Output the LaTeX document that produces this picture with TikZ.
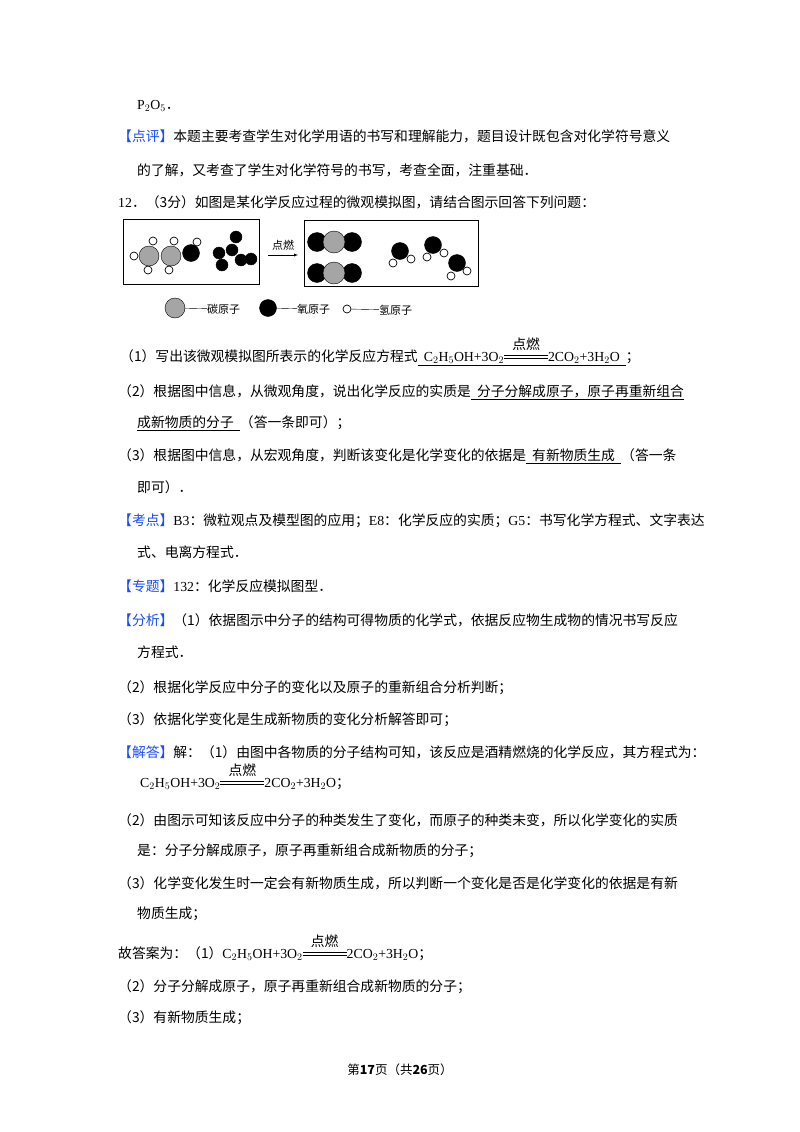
\documentclass[tikz,border=0pt]{standalone}
\usepackage{fontspec}
\setmainfont{Liberation Serif}
\newfontfamily\cjk{Noto Sans CJK SC}
\definecolor{hb}{RGB}{26,76,255}
\definecolor{cg}{RGB}{165,165,165}
\newcommand\ign{\makebox[44pt]{\rlap{\raisebox{0.22em}{\rule{44pt}{0.5pt}}}\rlap{\raisebox{0.42em}{\rule{44pt}{0.5pt}}}\raisebox{0.85em}{\makebox[44pt]{\cjk 点燃}}}}
\newcommand\hd[1]{{\color{hb}【#1】}}
\newcommand\eqa{{\rmfamily C$_2$H$_5$OH+3O$_2$}}
\newcommand\eqb{{\rmfamily 2CO$_2$+3H$_2$O}}
\tikzset{
 txt/.style={anchor=west,inner sep=0pt,font=\fontsize{13.8}{14}\cjk},
 box/.style={draw,line width=0.9pt},
 catom/.style={circle,draw,fill=cg,minimum size=20pt,inner sep=0pt},
 oatom/.style={circle,draw,fill=black,minimum size=17pt,inner sep=0pt},
 osm/.style={circle,draw,fill=black,minimum size=12pt,inner sep=0pt},
 hatom/.style={circle,draw,fill=white,minimum size=8pt,inner sep=0pt,line width=0.7pt},
 lgd/.style={anchor=west,inner sep=0pt,font=\fontsize{11}{11}\cjk},
}
\begin{document}
\begin{tikzpicture}[x=1pt,y=-1pt]
\useasboundingbox (0,0) rectangle (800,1132);
\fill[white] (0,0) rectangle (800,1132);
\node[txt] (t1) at (137,106) {{\rmfamily P$_2$O$_5$}．};
\node[txt] (t2) at (118,136) {\hd{点评}本题主要考查学生对化学用语的书写和理解能力，题目设计既包含对化学符号意义};
\node[txt] (t3) at (137,170) {的了解，又考查了学生对化学符号的书写，考查全面，注重基础．};
\node[txt] (t4) at (118,202) {{\rmfamily 12}．（3分）如图是某化学反应过程的微观模拟图，请结合图示回答下列问题：};
% diagram
\node[box,minimum width=136pt,minimum height=65pt] (bl) at (191,251.5) {};
\node[box,minimum width=174pt,minimum height=66pt] (br) at (391,253) {};
\coordinate (as) at (268,255); \coordinate (ae) at (298,255);
\draw[-latex] (as) -- (ae) node[midway,above=1pt,font=\fontsize{11}{11}\cjk] (ar) {点燃};
% left molecules
\foreach \n/\x/\y in {h1/134/256,h2/153/241,h3/174/241,h4/197/242,h5/148/270,h6/169/270}
  \node[hatom] (\n) at (\x,\y) {};
\node[catom] (c1) at (149,256) {};
\node[catom] (c2) at (171,256) {};
\node[oatom] (o1) at (191,253) {};
\foreach \n/\x/\y in {p1/219/253,p2/222/265,p3/236/237,p4/232/250,p5/241/260,p6/251/259}
  \node[osm] (\n) at (\x,\y) {};
% right molecules
\foreach \n/\y in {a/242,b/273}{
  \node[oatom,minimum size=19pt] (\n o1) at (317,\y) {};
  \node[oatom,minimum size=19pt] (\n o2) at (352,\y) {};
  \node[catom,minimum size=22pt] (\n c) at (334,\y) {};
}
\foreach \n/\x/\y in {w1/393/263,w2/411/259,w3/427/257,w4/444/253,w5/451/276,w6/467/271}
  \node[hatom] (\n) at (\x,\y) {};
\node[oatom] (wo1) at (400,251) {};
\node[oatom] (wo2) at (433,245) {};
\node[oatom] (wo3) at (457,263) {};
% legend
\node[catom] (lc) at (175,308) {};
\node[lgd] (lct) at (207,309) {碳原子};
\draw (lc) -- (lct);
\node[oatom] (lo) at (268,308) {};
\node[lgd] (lot) at (297,309) {氧原子};
\draw (lo) -- (lot);
\node[hatom] (lh) at (347,309) {};
\node[lgd] (lht) at (379,310) {氢原子};
\draw (lh) -- (lht);
% questions
\node[txt] (q1) at (120,352) {（1）写出该微观模拟图所表示的化学反应方程式\underline{\ \ \eqa\ign\eqb\ \ }；};
\node[txt] (q2) at (118,392) {（2）根据图中信息，从微观角度，说出化学反应的实质是\underline{\ \ 分子分解成原子，原子再重新组合}};
\node[txt] (q2b) at (137,423) {\underline{成新物质的分子\ \ }（答一条即可）；};
\node[txt] (q3) at (118,456) {（3）根据图中信息，从宏观角度，判断该变化是化学变化的依据是\underline{\ \ 有新物质生成\ \ }（答一条};
\node[txt] (q3b) at (137,487) {即可）．};
\node[txt] (k1) at (118,521) {\hd{考点}{\rmfamily B3}：微粒观点及模型图的应用；{\rmfamily E8}：化学反应的实质；{\rmfamily G5}：书写化学方程式、文字表达};
\node[txt] (k2) at (137,552) {式、电离方程式．};
\node[txt] (z1) at (118,586) {\hd{专题}{\rmfamily 132}：化学反应模拟图型．};
\node[txt] (f1) at (118,620) {\hd{分析}（1）依据图示中分子的结构可得物质的化学式，依据反应物生成物的情况书写反应};
\node[txt] (f2) at (137,652) {方程式．};
\node[txt] (f3) at (118,688) {（2）根据化学反应中分子的变化以及原子的重新组合分析判断；};
\node[txt] (f4) at (118,720) {（3）依据化学变化是生成新物质的变化分析解答即可；};
\node[txt] (j1) at (118,752) {\hd{解答}解：（1）由图中各物质的分子结构可知，该反应是酒精燃烧的化学反应，其方程式为：};
\node[txt] (j2) at (140,777) {\eqa\ign\eqb；};
\node[txt] (j3) at (118,820) {（2）由图示可知该反应中分子的种类发生了变化，而原子的种类未变，所以化学变化的实质};
\node[txt] (j4) at (137,851) {是：分子分解成原子，原子再重新组合成新物质的分子；};
\node[txt] (j5) at (118,883) {（3）化学变化发生时一定会有新物质生成，所以判断一个变化是否是化学变化的依据是有新};
\node[txt] (j6) at (137,914) {物质生成；};
\node[txt] (j7) at (118,948) {故答案为：（1）\eqa\ign\eqb；};
\node[txt] (j8) at (118,987) {（2）分子分解成原子，原子再重新组合成新物质的分子；};
\node[txt] (j9) at (118,1018) {（3）有新物质生成；};
\node[anchor=center,inner sep=0pt,font=\fontsize{12.5}{13}\cjk] (pg) at (400,1070) {第\textbf{17}页（共\textbf{26}页）};
\end{tikzpicture}
\end{document}
